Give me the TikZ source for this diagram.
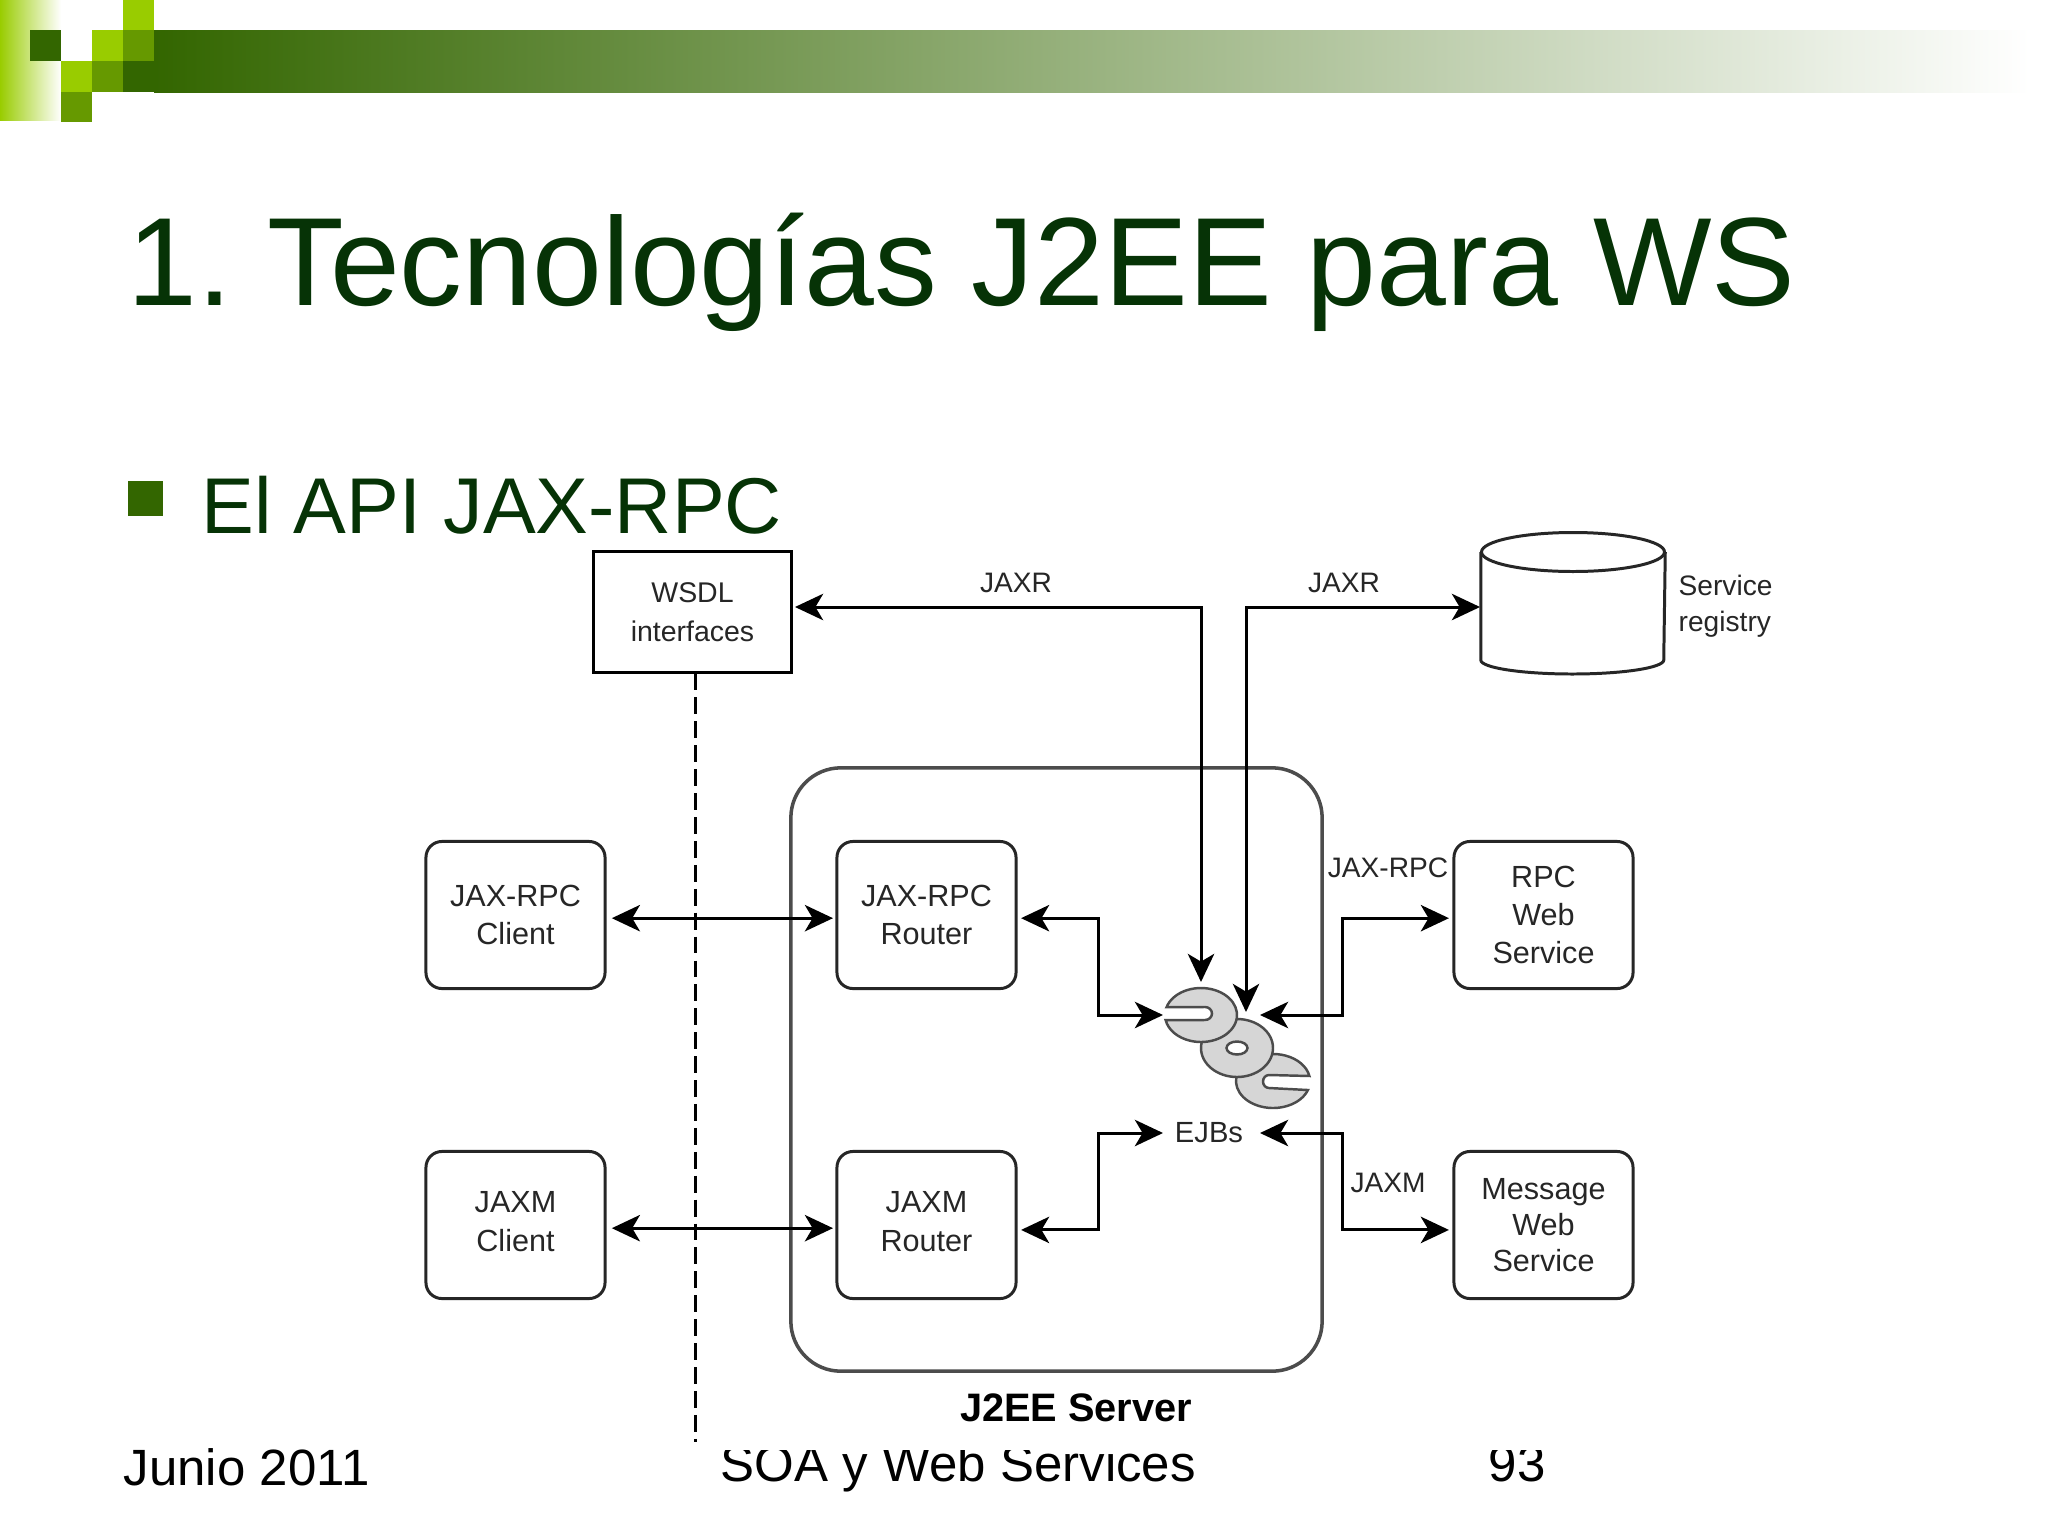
\documentclass[tikz,border=0pt]{standalone}
\usepackage{fontspec}
\setmainfont{Liberation Sans}
\frenchspacing
\usetikzlibrary{arrows.meta}
\definecolor{leafdark}{HTML}{336600}
\definecolor{leafmid}{HTML}{669900}
\definecolor{leaflime}{HTML}{99CC00}
\definecolor{titlegreen}{HTML}{063306}
\definecolor{inkgray}{HTML}{262626}

\begin{document}
\begin{tikzpicture}[x=0.01cm, y=-0.01cm,
	box/.style={draw=black!85, line width=.85pt, rounded corners=.16cm, minimum width=1.79cm, minimum height=1.47cm, inner sep=0pt, align=center, text=inkgray, font=\fontsize{8.7}{10.9}\selectfont},
	lbl/.style={text=inkgray, inner sep=0pt, align=center, font=\fontsize{8}{10}\selectfont},
	conn/.style={line width=.85pt, -{Stealth[length=8pt, width=7.5pt, inset=2.2pt]}},
	both/.style={line width=.85pt, {Stealth[length=8pt, width=7.5pt, inset=2.2pt]}-{Stealth[length=8pt, width=7.5pt, inset=2.2pt]}},
	part/.style={draw=black!70, fill=black!16, line width=.7pt},
	foot/.style={anchor=base west, inner sep=0pt, font=\fontsize{14.5}{16}\selectfont}]
	\useasboundingbox (0,0) rectangle (2048,1536);
	\fill[white] (0,0) rectangle (2048,1536);

	% slide header
	\shade[left color=leaflime, right color=white] (0,0) rectangle (61,120);
	\shade[left color=leafdark, right color=white] (154,30) rectangle (2030,92);
	\fill[leafdark] (123,61) rectangle (154,92);
	\fill[leafdark] (30,30) rectangle (61,61);
	\fill[leaflime] (123,0) rectangle (154,30);
	\fill[leaflime] (92,30) rectangle (123,61);
	\fill[leafmid] (123,30) rectangle (154,61);
	\fill[leaflime] (61,61) rectangle (92,92);
	\fill[leafmid] (92,61) rectangle (123,92);
	\fill[leafmid] (61,92) rectangle (92,122);

	\node[anchor=base west, inner sep=0pt, text=titlegreen, font=\fontsize{35.7}{40}\selectfont] (title) at (127,305) {1. Tecnologías J2EE para WS};
	\fill[leafdark] (128,481) rectangle (163,516);
	\node[anchor=base west, inner sep=0pt, text=titlegreen, font=\fontsize{22.5}{26}\selectfont] (bullet) at (201,533) {El API JAX-RPC};

	% footer, the figure covers the top of it
	\node[foot] (date) at (123,1485) {Junio 2011};
	\node[foot] (course) at (720,1481) {SOA y Web Services};
	\node[foot] (page) at (1488,1481) {93};
	\fill[white] (700,1400) rectangle (1560,1450);

	% boxes
	\node[draw=black, line width=.85pt, minimum width=1.97cm, minimum height=1.2cm, inner sep=0pt, align=center, text=inkgray, font=\fontsize{8.1}{11}\selectfont] (wsdl) at (692.5,612) {WSDL\\interfaces};
	\node[minimum width=1.83cm, minimum height=1.41cm, inner sep=0pt] (registry) at (1573,603) {};
	\draw[line width=.85pt, draw=black!85, fill=white] (registry.west |- 0,552) -- (registry.west |- 0,660) arc (180:0:91.5 and 14) -- (registry.east |- 0,552);
	\draw[line width=.85pt, draw=black!85] (1573,552) ellipse (91.5 and 19.5);
	\node[lbl, anchor=west, align=left, font=\fontsize{8}{10.2}\selectfont] (registrytext) at (1678,606.5) {Service\\registry};
	\node[draw=black!70, line width=1pt, rounded corners=.5cm, minimum width=5.31cm, minimum height=6.03cm] (server) at (1056.5,1069.5) {};
	\node[inner sep=0pt, text=black, font=\bfseries\fontsize{11.3}{13}\selectfont] (servertext) at (1076,1408) {J2EE Server};

	\node[box] (rpcclient) at (515.5,915) {JAX-RPC\\Client};
	\node[box] (rpcrouter) at (926.5,915) {JAX-RPC\\Router};
	\node[box] (rpcservice) at (1543.5,915) {RPC\\Web\\Service};
	\node[box, text depth=2pt] (mclient) at (515.5,1225) {JAXM\\Client};
	\node[box, text depth=2pt] (mrouter) at (926.5,1225) {JAXM\\Router};
	\node[box, font=\fontsize{8.7}{10.2}\selectfont] (mservice) at (1543.5,1225) {Message\\Web\\Service};

	% the beans
	\draw[part] (1273,1081) ++(19.5:37 and 27) arc (19.5:349.3:37 and 27) -- (1269,1075) arc (-90:-270:6 and 6.5) -- cycle;
	\draw[part, even odd rule] (1237,1048) ellipse (36 and 29) (1237,1048) ellipse (10.5 and 6.5);
	\draw[part] (1201,1015) ++(197:36 and 27) arc (197:529:36 and 27) -- (1205,1020) arc (90:-90:7 and 6.5) -- cycle;
	\node[lbl, font=\fontsize{8.3}{10}\selectfont] (ejbs) at (1209,1133) {EJBs};

	\coordinate (beanTopA) at (1201,982);
	\coordinate (beanTopB) at (1246,1012);
	\coordinate (beanLeft) at (1163,1015);
	\coordinate (beanRight) at (1260,1015);
	\coordinate (ejbLeft) at (1163,1133);
	\coordinate (ejbRight) at (1260,1133);
	\coordinate (wsdlIn) at (795,607);
	\coordinate (regIn) at (1480,607);
	\coordinate (routerTurn) at (1098,1000);
	\coordinate (serviceTurn) at (1342,1000);

	% connectors
	\draw[line width=.85pt, dash pattern=on 4.8pt off 2pt] (wsdl.south -| 695,672) -- (695,1442);
	\draw[both] (wsdlIn) -| (beanTopA);
	\draw[both] (regIn) -| (beanTopB);
	\draw[both] ([yshift=-.9pt,xshift=1.5pt]rpcclient.east) -- ([yshift=-.9pt,xshift=-.7pt]rpcrouter.west);
	\draw[both] ([yshift=-.9pt,xshift=1.5pt]mclient.east) -- ([yshift=-.9pt,xshift=-.7pt]mrouter.west);
	\draw[both] ([yshift=-.9pt,xshift=1pt]rpcrouter.east) -| (routerTurn) |- (beanLeft);
	\draw[both] ([yshift=-1.4pt,xshift=1pt]mrouter.east) -| (routerTurn |- ejbLeft) -- (ejbLeft);
	\draw[both] ([yshift=-.9pt,xshift=-1pt]rpcservice.west) -| (serviceTurn) |- (beanRight);
	\draw[both] ([yshift=-1.4pt,xshift=-1pt]mservice.west) -| (serviceTurn |- ejbRight) -- (ejbRight);

	% connector labels
	\node[lbl] (jaxrleft) at (1016,583) {JAXR};
	\node[lbl] (jaxrright) at (1344,583) {JAXR};
	\node[lbl] (jaxrpc) at (1388,868) {JAX-RPC};
	\node[lbl] (jaxm) at (1388,1183) {JAXM};
\end{tikzpicture}
\end{document}
